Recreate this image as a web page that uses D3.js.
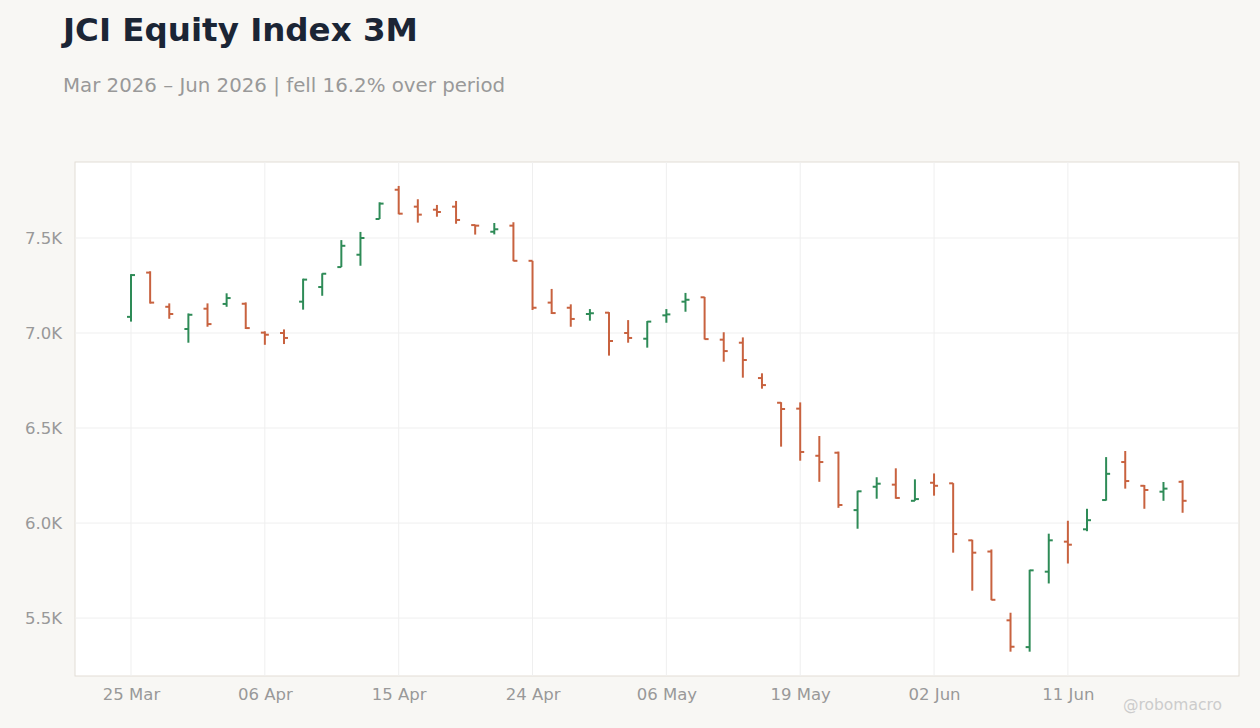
<!doctype html>
<html>
<head>
<style>
  body { margin: 0; background: #f8f7f4; font-family: 'DejaVu Sans', sans-serif; }
  svg { display: block; }
</style>
<script src="https://d3js.org/d3.v7.min.js"></script>
</head>
<body>
<script>
// trading days (holidays skipped)
var dates = ["2026-03-25","2026-03-26","2026-03-27","2026-03-30","2026-03-31","2026-04-01","2026-04-02",
  "2026-04-06","2026-04-07","2026-04-08","2026-04-09","2026-04-10","2026-04-13","2026-04-14",
  "2026-04-15","2026-04-16","2026-04-17","2026-04-20","2026-04-21","2026-04-22","2026-04-23",
  "2026-04-24","2026-04-27","2026-04-28","2026-04-29","2026-04-30","2026-05-04","2026-05-05",
  "2026-05-06","2026-05-07","2026-05-08","2026-05-11","2026-05-12","2026-05-13","2026-05-18",
  "2026-05-19","2026-05-20","2026-05-21","2026-05-22","2026-05-25","2026-05-26","2026-05-28",
  "2026-06-02","2026-06-03","2026-06-04","2026-06-05","2026-06-08","2026-06-09","2026-06-10",
  "2026-06-11","2026-06-12","2026-06-15","2026-06-16","2026-06-17","2026-06-18","2026-06-19"];
var open  = [7085,7318,7138,7021,7128,7153,7154,7002,7000,7165,7242,7347,7412,7600,7754,7665,7649,7665,7568,7533,7565,7380,7160,7133,7100,7107,7000,6970,7093,7165,7188,6965,6949,6763,6633,6602,6354,6370,6068,6191,6202,6117,6212,6209,5909,5850,5488,5347,5744,5902,5967,6121,6321,6196,6165,6217];
var high  = [7310,7325,7156,7103,7156,7209,7161,7009,7019,7286,7314,7489,7532,7688,7774,7704,7674,7695,7570,7579,7583,7380,7232,7151,7126,7110,7068,7063,7126,7211,7190,7004,6977,6788,6636,6635,6458,6376,6170,6241,6288,6230,6261,6210,5912,5861,5528,5754,5944,6012,6075,6347,6379,6200,6216,6225];
var low   = [7060,7155,7075,6949,7033,7138,7021,6938,6942,7123,7196,7347,7354,7600,7625,7581,7612,7575,7518,7519,7378,7121,7100,7033,7065,6881,6949,6923,7054,7112,6966,6849,6765,6707,6402,6328,6217,6080,5970,6128,6128,6117,6144,5844,5644,5594,5323,5323,5682,5787,5957,6118,6181,6075,6117,6054];
var close = [7305,7160,7100,7096,7047,7184,7026,6991,6974,7281,7312,7459,7500,7681,7628,7623,7637,7595,7565,7546,7380,7133,7105,7074,7104,6958,6974,7060,7098,7175,6968,6905,6858,6726,6600,6374,6321,6095,6167,6207,6132,6126,6196,5942,5844,5596,5349,5751,5909,5886,6015,6259,6221,6174,6181,6117];
var yTicks = [5500, 6000, 6500, 7000, 7500];
var xTickIdx = [0, 7, 14, 21, 28, 35, 42, 49];
var periodChange = "fell 16.2%";

var W = 1260, H = 728;
var L = 75, R = 1239, T = 162, B = 676;
var up = "#2e8b57", down = "#c8623f";

var parse = d3.timeParse("%Y-%m-%d"), fmt = d3.timeFormat("%d %b");
var bars = dates.map(function (d, i) {
  return { i: i, date: parse(d), o: open[i], h: high[i], l: low[i], c: close[i] };
});

var svg = d3.select("body").append("svg").attr("width", W).attr("height", H);

var x = d3.scaleLinear().domain([-2.93, 57.95]).range([L, R]);
var y = d3.scaleLinear().domain([5195, 7900]).range([B, T]);

svg.append("text").attr("x", 63).attr("y", 41)
  .style("font-size", "32.5px").style("font-weight", "bold").attr("fill", "#1b2535")
  .text("JCI Equity Index 3M");
svg.append("text").attr("x", 63).attr("y", 92)
  .style("font-size", "19.8px").attr("fill", "#999")
  .text("Mar 2026 \u2013 Jun 2026 | " + periodChange + " over period");

svg.append("rect").attr("x", L).attr("y", T).attr("width", R - L).attr("height", B - T)
  .attr("fill", "#fff").attr("stroke", "#e2ddd5");

// grid
svg.append("g").selectAll("line").data(yTicks).join("line")
  .attr("x1", L).attr("x2", R).attr("y1", y).attr("y2", y)
  .attr("stroke", "#efefef");
svg.append("g").selectAll("line").data(xTickIdx).join("line")
  .attr("x1", x).attr("x2", x).attr("y1", T).attr("y2", B)
  .attr("stroke", "#efefef");

// axes
var yAxis = svg.append("g").attr("transform", "translate(" + L + ",0)")
  .call(d3.axisLeft(y).tickValues(yTicks).tickSize(0).tickPadding(13)
    .tickFormat(function (d) { return (d / 1000).toFixed(1) + "K"; }));
var xAxis = svg.append("g").attr("transform", "translate(0," + B + ")")
  .call(d3.axisBottom(x).tickValues(xTickIdx).tickSize(0).tickPadding(12)
    .tickFormat(function (i) { return fmt(bars[i].date); }));
[yAxis, xAxis].forEach(function (a) {
  a.select(".domain").remove();
  a.selectAll("text").attr("fill", "#999").style("font-size", "16.5px")
    .style("font-family", "'DejaVu Sans', sans-serif");
});

// OHLC bars
var g = svg.append("g").selectAll("g").data(bars).join("g")
  .attr("stroke", function (d) { return d.c >= d.o ? up : down; })
  .attr("stroke-width", 2);
g.append("line").attr("x1", function (d) { return x(d.i); }).attr("x2", function (d) { return x(d.i); })
  .attr("y1", function (d) { return y(d.h); }).attr("y2", function (d) { return y(d.l); });
g.append("line").attr("x1", function (d) { return x(d.i) - 4; }).attr("x2", function (d) { return x(d.i); })
  .attr("y1", function (d) { return y(d.o); }).attr("y2", function (d) { return y(d.o); });
g.append("line").attr("x1", function (d) { return x(d.i); }).attr("x2", function (d) { return x(d.i) + 4; })
  .attr("y1", function (d) { return y(d.c); }).attr("y2", function (d) { return y(d.c); });

svg.append("text").attr("x", 1222).attr("y", 710).attr("text-anchor", "end")
  .style("font-size", "15.5px").attr("fill", "#ccc").text("@robomacro");
</script>
</body>
</html>
